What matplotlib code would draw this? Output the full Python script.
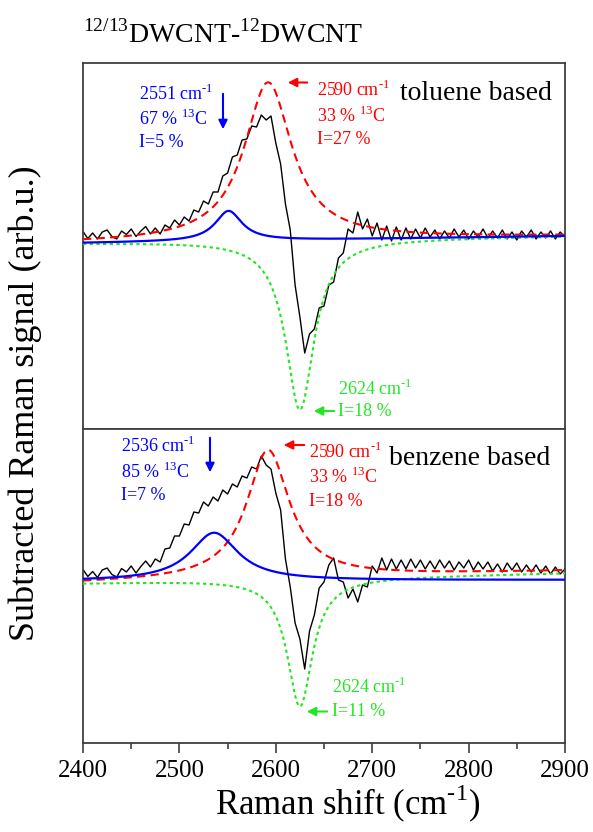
import numpy as np
import matplotlib
matplotlib.use("Agg")
import matplotlib.pyplot as plt
from matplotlib.patches import FancyArrowPatch

plt.rcParams["font.family"] = ["Liberation Serif", "DejaVu Serif"]
plt.rcParams["mathtext.fontset"] = "custom"
plt.rcParams["mathtext.rm"] = "Liberation Serif"

W, H = 593, 832

# measured spectra (difference signal), every 5 cm-1 from 2400 to 2900
shift = np.arange(2400, 2901, 5)

toluene_signal = [
    0.085, 0.015, 0.07, 0.01, 0.08, 0.10, 0.035, 0.01, 0.09, 0.055,
    0.11, 0.035, 0.09, 0.135, 0.06, 0.12, 0.06, 0.15, 0.12, 0.20,
    0.15, 0.23, 0.19, 0.30, 0.28, 0.39, 0.36, 0.48, 0.48, 0.64,
    0.67, 0.83, 0.85, 1.00, 1.01, 1.14, 1.13, 1.25, 1.20, 1.24,
    0.97, 0.76, 0.36, 0.10, -0.45, -0.77, -1.13, -0.94, -0.89, -0.68,
    -0.66, -0.45, -0.42, -0.18, -0.13, 0.11, 0.07, 0.28, 0.11, 0.21,
    0.04, 0.17, 0.00, 0.14, -0.01, 0.13, 0.00, 0.12, 0.01, 0.11,
    0.02, 0.12, 0.03, 0.10, 0.01, 0.09, 0.02, 0.11, 0.03, 0.10,
    0.01, 0.09, 0.03, 0.11, 0.02, 0.09, 0.02, 0.10, 0.01, 0.08,
    0.00, 0.09, 0.03, 0.10, 0.01, 0.08, 0.02, 0.09, 0.01, 0.08,
    0.03,
]

benzene_signal = [
    0.105, 0.035, 0.085, 0.025, 0.10, 0.12, 0.055, 0.03, 0.115, 0.08,
    0.14, 0.07, 0.135, 0.19, 0.13, 0.21, 0.18, 0.31, 0.32, 0.44,
    0.44, 0.56, 0.55, 0.68, 0.67, 0.78, 0.74, 0.83, 0.79, 0.90,
    0.86, 0.96, 0.93, 1.04, 1.02, 1.13, 1.11, 1.24, 1.15, 1.11,
    0.87, 0.70, 0.21, -0.07, -0.43, -0.59, -0.89, -0.51, -0.35, -0.08,
    -0.02, 0.15, 0.22, 0.00, -0.02, -0.18, -0.09, -0.22, -0.05, -0.07,
    0.14, 0.07, 0.22, 0.10, 0.21, 0.11, 0.20, 0.11, 0.21, 0.12,
    0.20, 0.11, 0.19, 0.11, 0.20, 0.12, 0.19, 0.10, 0.18, 0.12,
    0.20, 0.10, 0.18, 0.11, 0.18, 0.09, 0.16, 0.08, 0.17, 0.10,
    0.17, 0.08, 0.15, 0.08, 0.15, 0.07, 0.14, 0.06, 0.13, 0.06,
    0.11,
]

# fitted Lorentzian components: center, half width, height, baseline at 2400 / 2900
toluene_blue = (2551, 17, 0.30, -0.03, 0.04)
toluene_red = (2592, 30, 1.58, -0.03, 0.04)
toluene_green = (2625, 18, -1.70, -0.03, 0.04)

benzene_blue = (2536, 30, 0.48, -0.01, 0.0)
benzene_red = (2592, 27, 1.285, -0.03, 0.09)
benzene_green = (2625, 16, -1.28, -0.03, 0.07)

BLUE = "#0000ff"
RED = "#ff0000"
GREEN = "#22e622"


def lorentz(x, comp):
    c, g, h, b0, b1 = comp
    base = b0 + (b1 - b0) * (x - 2400) / 500
    return base + h / (1 + ((x - c) / g) ** 2)


def fx(x):
    return x / W


def fy(y):
    return 1 - y / H


fig = plt.figure(figsize=(W / 100, H / 100), dpi=100)
ax1 = fig.add_axes([fx(83), fy(429), fx(565) - fx(83), fy(63) - fy(429)])
ax2 = fig.add_axes([fx(83), fy(743), fx(565) - fx(83), fy(429) - fy(743)])

xs = np.linspace(2400, 2900, 1001)

panels = [
    (ax1, toluene_signal, toluene_blue, toluene_red, toluene_green, (-1.89, 1.77)),
    (ax2, benzene_signal, benzene_blue, benzene_red, benzene_green, (-1.63, 1.51)),
]

for ax, sig, cb, cr, cg, ylim in panels:
    ax.plot(shift, sig, color="black", lw=1.0, zorder=2)
    ax.plot(xs, lorentz(xs, cr), color=RED, lw=1.5, dashes=(4, 2.5), zorder=3)
    ax.plot(xs, lorentz(xs, cg), color=GREEN, lw=1.5, dashes=(1.6, 1.6), zorder=3)
    ax.plot(xs, lorentz(xs, cb), color=BLUE, lw=1.6, zorder=4)
    ax.set_xlim(2400, 2900)
    ax.set_ylim(*ylim)
    ax.set_yticks([])
    for s in ax.spines.values():
        s.set_color("#404040")
        s.set_linewidth(1.3)

ax1.set_xticks([])
ax2.set_xticks(np.arange(2400, 2901, 100))
ax2.set_xticks(np.arange(2450, 2900, 100), minor=True)
ax2.tick_params(axis="x", which="major", direction="out", length=7, width=1.2,
                color="#404040", labelsize=18, pad=5)
ax2.tick_params(axis="x", which="minor", direction="out", length=4, width=1.2,
                color="#404040")


def sup(s):
    return r"$^{\text{" + s + "}}$"


# annotation texts: (text, color, left x px, baseline y px, size)
labels = [
    ("2551 cm" + sup("-1"), BLUE, 139, 100, 13),
    ("67 % " + sup("13") + "C", BLUE, 139, 125, 13),
    ("I=5 %", BLUE, 139, 147, 13),
    ("2590 cm" + sup("-1"), RED, 317, 96, 13),
    ("33 % " + sup("13") + "C", RED, 317, 121.5, 13),
    ("I=27 %", RED, 317, 143.5, 13),
    ("toluene based", "black", 400, 99.5, 20),
    ("2624 cm" + sup("-1"), GREEN, 338, 395, 13),
    ("I=18 %", GREEN, 338, 416, 13),
    ("2536 cm" + sup("-1"), BLUE, 121, 452.5, 13),
    ("85 % " + sup("13") + "C", BLUE, 121, 477.5, 13),
    ("I=7 %", BLUE, 121, 500.5, 13),
    ("2590 cm" + sup("-1"), RED, 309, 457.5, 13),
    ("33 % " + sup("13") + "C", RED, 309, 483, 13),
    ("I=18 %", RED, 309, 505.5, 13),
    ("benzene based", "black", 389, 464.5, 20),
    ("2624 cm" + sup("-1"), GREEN, 332, 693, 13),
    ("I=11 %", GREEN, 332, 716.5, 13),
]
for t, c, x, y, s in labels:
    fig.text(fx(x), fy(y), t, color=c, fontsize=s, ha="left", va="baseline")

# arrows: (start px, end px, color)
arrows = [
    ((223, 91), (223, 132), BLUE),
    ((310, 82.5), (285, 82.5), RED),
    ((337, 411), (311, 411), GREEN),
    ((210, 435), (210, 475), BLUE),
    ((307, 445), (281, 445), RED),
    ((330, 711.5), (304, 711.5), GREEN),
]
for (x0, y0), (x1, y1), c in arrows:
    fig.add_artist(FancyArrowPatch(
        (fx(x0), fy(y0)), (fx(x1), fy(y1)), transform=fig.transFigure,
        arrowstyle="-|>", mutation_scale=13, color=c, lw=1.5))

fig.text(fx(83), fy(43), sup("12/13") + "DWCNT-" + sup("12") + "DWCNT",
         fontsize=20, ha="left", va="baseline")
fig.text(fx(25), fy(403), "Subtracted Raman signal (arb.u.)", fontsize=26,
         rotation=90, ha="center", va="center")
fig.text(fx(348), fy(815), "Raman shift (cm" + sup("-1") + ")", fontsize=25,
         ha="center", va="baseline")

fig.savefig("out.png", dpi=100)
